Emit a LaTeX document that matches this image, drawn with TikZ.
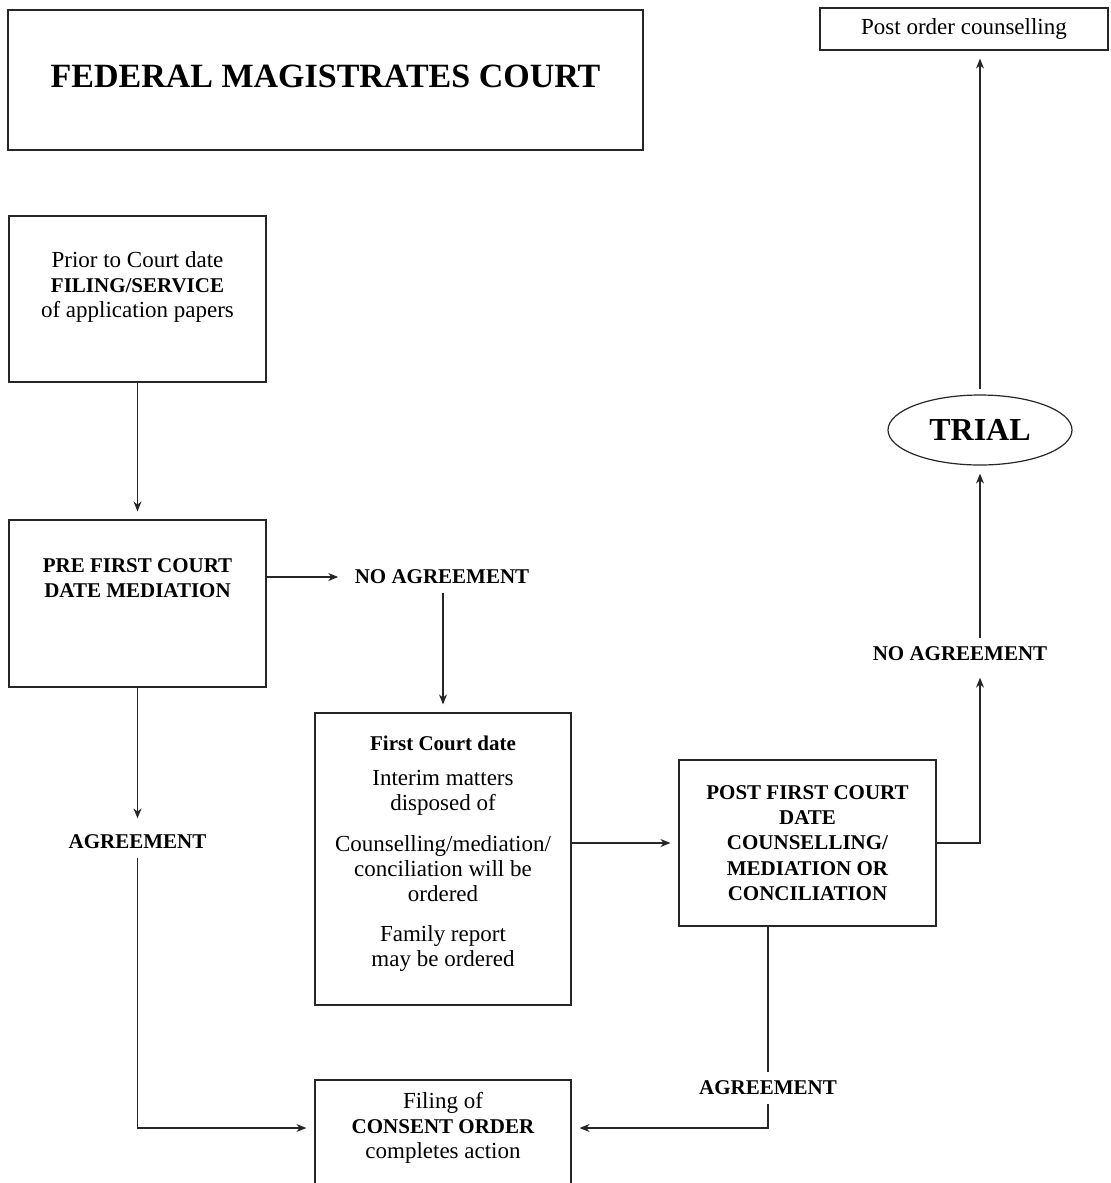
\documentclass[tikz,border=0pt]{standalone}
\usepackage{fontspec}
\setmainfont{Liberation Serif}
\usetikzlibrary{arrows.meta,shapes.geometric,calc}
\newcommand{\bsc}[1]{{\fontsize{10.5}{12.5}\selectfont\bfseries #1}}

\begin{document}
\begin{tikzpicture}[x=0.5pt,y=-0.5pt,line width=0.6pt,
	>={Stealth[length=5pt,width=4pt]},
	every node/.style={font=\fontsize{11.5}{12.5}\selectfont,align=center,text=black},
	box/.style={draw=black!85,inner sep=0pt,minimum width=128.5pt,minimum height=83pt},
	lbl/.style={font=\fontsize{10.5}{12.5}\selectfont\bfseries,inner sep=4pt},
	arr/.style={->,draw=black!85,shorten >=4pt},
	con/.style={draw=black!85}]
					\useasboundingbox (0,0) rectangle (1111,1183);
					
					%BOXES
					\node[box,minimum width=317.5pt,minimum height=70pt,text depth=4pt,
					  font=\fontsize{17}{20}\selectfont\bfseries] (court) at (325.5,80) {FEDERAL MAGISTRATES COURT};
					\node[box,minimum width=144pt,minimum height=21pt] (postorder) at (964,29) {Post order counselling};
					\node[box,text depth=14pt] (prior) at (137.5,299) {Prior to Court date\\\bsc{FILING/SERVICE}\\of application papers};
					\node[box,minimum height=83.5pt,text depth=25.5pt] (pre) at (137.5,603.5) {\bsc{PRE FIRST COURT}\\\bsc{DATE MEDIATION}};
					\node[box,minimum width=128pt,minimum height=146pt,text depth=7.3pt] (first) at (443,859)
					  {\bsc{First Court date}\\[5pt]Interim matters\\disposed of\\[8pt]Counselling/mediation/\\conciliation will be\\ordered\\[7.5pt]Family report\\may be ordered};
					\node[box,font=\fontsize{10.5}{12.7}\selectfont\bfseries] (post) at (807.5,843)
					  {POST FIRST COURT\\DATE\\COUNSELLING/\\MEDIATION OR\\CONCILIATION};
					\node[box,minimum width=128pt,minimum height=56pt,text depth=10.3pt] (consent) at (443,1136)
					  {Filing of\\\bsc{CONSENT ORDER}\\completes action};
					\node[draw=black!85,ellipse,inner sep=0pt,minimum width=92pt,minimum height=35pt,
					  font=\fontsize{16}{18}\selectfont\bfseries] (trial) at (980,430) {TRIAL};
					
					%LABELS
					\node[lbl] (noagr1) at (442,577) {NO AGREEMENT};
					\node[lbl] (noagr2) at (960,654) {NO AGREEMENT};
					\node[lbl] (agr1) at (137.5,842) {AGREEMENT};
					\node[lbl] (agr2) at (768,1088) {AGREEMENT};
					
					%ARROWS
					\draw[arr] (prior) -- (pre);
					\draw[arr] (pre.east |- noagr1) -- (noagr1.west);
					\draw[arr] (noagr1.south -| first) -- (first.north);
					\draw[arr] (first.east |- post) -- (post.west);
					\draw[arr] (post.east) -| (noagr2.south -| trial);
					\draw[arr] (noagr2.north -| trial) -- (trial.south);
					\draw[arr,shorten <=2.5pt] (trial.north) -- (postorder.south -| trial);
					\draw[arr] (pre.south) -- (agr1.north);
					\draw[arr] (agr1.south) |- ($(consent.west)+(0,-8)$);
					\draw[con] (post.south -| agr2) -- (agr2.north);
					\draw[arr] (agr2.south) |- ($(consent.east)+(0,-8)$);
					
				  \end{tikzpicture}
\end{document}
